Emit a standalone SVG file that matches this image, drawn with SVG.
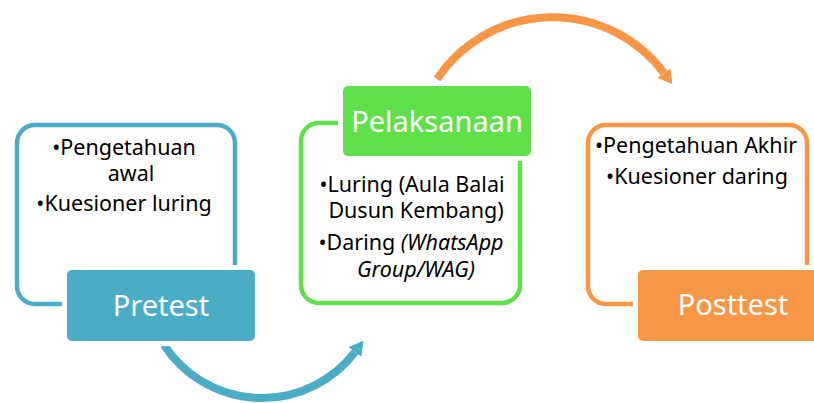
<svg xmlns="http://www.w3.org/2000/svg" width="814" height="403" viewBox="0 0 814 403">
  <style>
    .frame { fill: none; stroke-width: 4.5; }
    .gap { fill: #ffffff; }
    .title { font-family: "Noto Sans", "Open Sans", sans-serif; font-size: 29px; fill: #ffffff; text-anchor: middle; }
    .item { font-family: "Noto Sans", "Open Sans", sans-serif; font-size: 21.5px; fill: #000000; text-anchor: middle; }
    .it { font-style: italic; }
  </style>
  <defs>
    <marker id="headBlue" markerUnits="userSpaceOnUse" markerWidth="16" markerHeight="18" refX="0" refY="8" orient="auto">
      <path d="M0,0 L14,8 L0,16 z" fill="#4BACC6"/>
    </marker>
    <marker id="headOrange" markerUnits="userSpaceOnUse" markerWidth="16" markerHeight="18" refX="0" refY="8" orient="auto">
      <path d="M0,0 L14,8 L0,16 z" fill="#F79646"/>
    </marker>
  </defs>

  <g id="connectors">
    <path d="M164,345 A117,117 0 0 0 355,352" fill="none" stroke="#4BACC6" stroke-width="8" marker-end="url(#headBlue)"/>
    <path d="M437,79 A139,139 0 0 1 664,73" fill="none" stroke="#F79646" stroke-width="8" marker-end="url(#headOrange)"/>
  </g>

  <g id="pretest">
    <rect class="frame" x="17" y="125" width="218" height="179" rx="18" stroke="#4BACC6"/>
    <text class="item" x="124" y="155">•Pengetahuan</text>
    <text class="item" x="131" y="181">awal</text>
    <text class="item" x="124" y="211">•Kuesioner luring</text>
    <rect class="gap" x="62" y="265" width="198" height="81" rx="8"/>
    <rect x="67" y="270" width="188" height="71" rx="5" fill="#4BACC6"/>
    <text class="title" x="161" y="316">Pretest</text>
  </g>

  <g id="pelaksanaan">
    <rect class="frame" x="301" y="123" width="219" height="180" rx="18" stroke="#5FE04B"/>
    <text class="item" x="412" y="192">•Luring (Aula Balai</text>
    <text class="item" x="416" y="218">Dusun Kembang)</text>
    <text class="item" x="411" y="250">•Daring <tspan class="it">(WhatsApp</tspan></text>
    <text class="item it" x="416" y="277">Group/WAG)</text>
    <rect class="gap" x="338" y="81" width="198" height="80" rx="8"/>
    <rect x="343" y="86" width="188" height="70" rx="5" fill="#5FE04B"/>
    <text class="title" x="437" y="132">Pelaksanaan</text>
  </g>

  <g id="posttest">
    <rect class="frame" x="588" y="125" width="219" height="179" rx="18" stroke="#F79646"/>
    <text class="item" x="696" y="153">•Pengetahuan Akhir</text>
    <text class="item" x="697" y="184">•Kuesioner daring</text>
    <rect class="gap" x="633" y="265" width="198" height="81" rx="8"/>
    <rect x="638" y="270" width="188" height="71" rx="5" fill="#F79646"/>
    <text class="title" x="733" y="315">Posttest</text>
  </g>
</svg>
